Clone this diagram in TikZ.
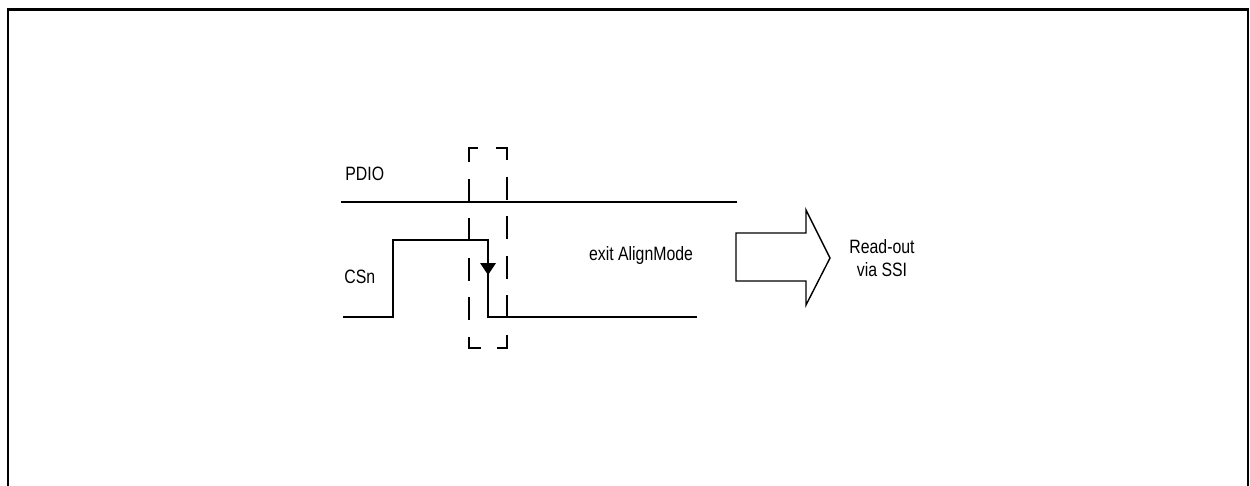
\documentclass[tikz,border=0pt]{standalone}
\usepackage{fontspec}
\setmainfont{Liberation Sans}[FakeStretch=0.82]
\usetikzlibrary{positioning}

\begin{document}
\begin{tikzpicture}[x=0.02cm, y=-0.02cm,
    frame/.style={line width=1.2pt},
    sig/.style={line width=0.8pt},
    guard/.style={line width=0.8pt, dash pattern=on 13.04pt off 9.45pt, dash phase=17.76pt},
    lbl/.style={font=\fontsize{11}{13}\selectfont, inner sep=0pt, align=center}
]
\useasboundingbox (0,0) rectangle (1250,486);
% outer frame (open at the bottom)
\draw[frame] (8,486) -- (8,9.5) -- (1248,9.5) -- (1248,486);

% signal names
\node[lbl, anchor=west] (pdio) at (345,174) {PDIO};
\node[lbl, anchor=west] (csn) at (344,277) {CSn};

% PDIO level
\coordinate (pdioA) at (341,202);
\coordinate (pdioB) at (737,202);
\draw[sig] (pdioA) -- (pdioB);

% CSn waveform
\coordinate (csnA) at (343,317);
\coordinate (csnB) at (697,317);
\draw[sig] (csnA) -- (393,317) -- (393,240) -- (488,240) -- (488,317) -- (csnB);
\fill (480,263) -- (496,263) -- (488,275) -- cycle;

% sampling window
\draw[guard] (488,148) -- (507,148) -- (507,348) -- (469,348) -- (469,148) -- cycle;

\node[lbl] (exit) at (641,256) {exit AlignMode};

% read-out arrow
\draw[sig, line join=miter, fill=white]
    (736,233) -- (806,233) -- (806,210) -- (830,258) -- (806,305) -- (806,281) -- (736,281) -- cycle;
\node[lbl] (ssi) at (882,258) {Read-out\\via SSI};
\end{tikzpicture}
\end{document}
